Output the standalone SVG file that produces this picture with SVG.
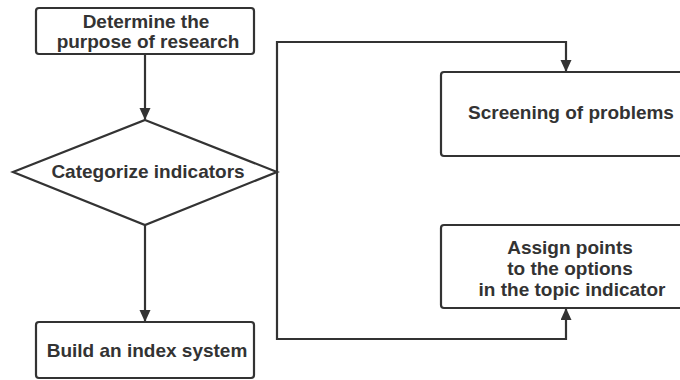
<svg xmlns="http://www.w3.org/2000/svg" width="680" height="380" viewBox="0 0 680 380">
<style>
.box{fill:#fff;stroke:#333;stroke-width:2.2}
.t{font-family:"Liberation Sans",Arial,sans-serif;font-size:19px;font-weight:bold;fill:#333;text-anchor:middle}
.c{fill:none;stroke:#333;stroke-width:2.2}
</style>
<defs>
<marker id="ah" markerUnits="userSpaceOnUse" markerWidth="12" markerHeight="14" refX="11" refY="5.5" orient="auto">
<path d="M0,0 L12,5.5 L0,11 Z" fill="#333"/>
</marker>
</defs>
<rect width="680" height="380" fill="#fff"/>
<g id="connectors">
<line class="c" x1="145" y1="54" x2="145" y2="119" marker-end="url(#ah)"/>
<line class="c" x1="145" y1="225" x2="145" y2="321" marker-end="url(#ah)"/>
<polyline class="c" points="277,172 277,42 566,42 566,71" marker-end="url(#ah)"/>
<polyline class="c" points="277,172 277,339 566,339 566,309" marker-end="url(#ah)"/>
</g>
<g id="n1">
<rect class="box" x="36" y="8" width="218" height="46" rx="3"/>
<text class="t" x="146" y="28">Determine the</text>
<text class="t" x="148" y="48">purpose of research</text>
</g>
<g id="n2">
<polygon class="box" points="145,120 277,172 145,225 13,172"/>
<text class="t" x="148" y="178">Categorize indicators</text>
</g>
<g id="n3">
<rect class="box" x="36" y="322" width="218" height="56" rx="3"/>
<text class="t" x="147" y="357">Build an index system</text>
</g>
<g id="n4">
<rect class="box" x="441" y="72" width="254" height="84" rx="3"/>
<text class="t" x="571" y="119">Screening of problems</text>
</g>
<g id="n5">
<rect class="box" x="441" y="225" width="254" height="83" rx="3"/>
<text class="t" x="570" y="254">Assign points</text>
<text class="t" x="570" y="275">to the options</text>
<text class="t" x="572" y="296">in the topic indicator</text>
</g>
</svg>
